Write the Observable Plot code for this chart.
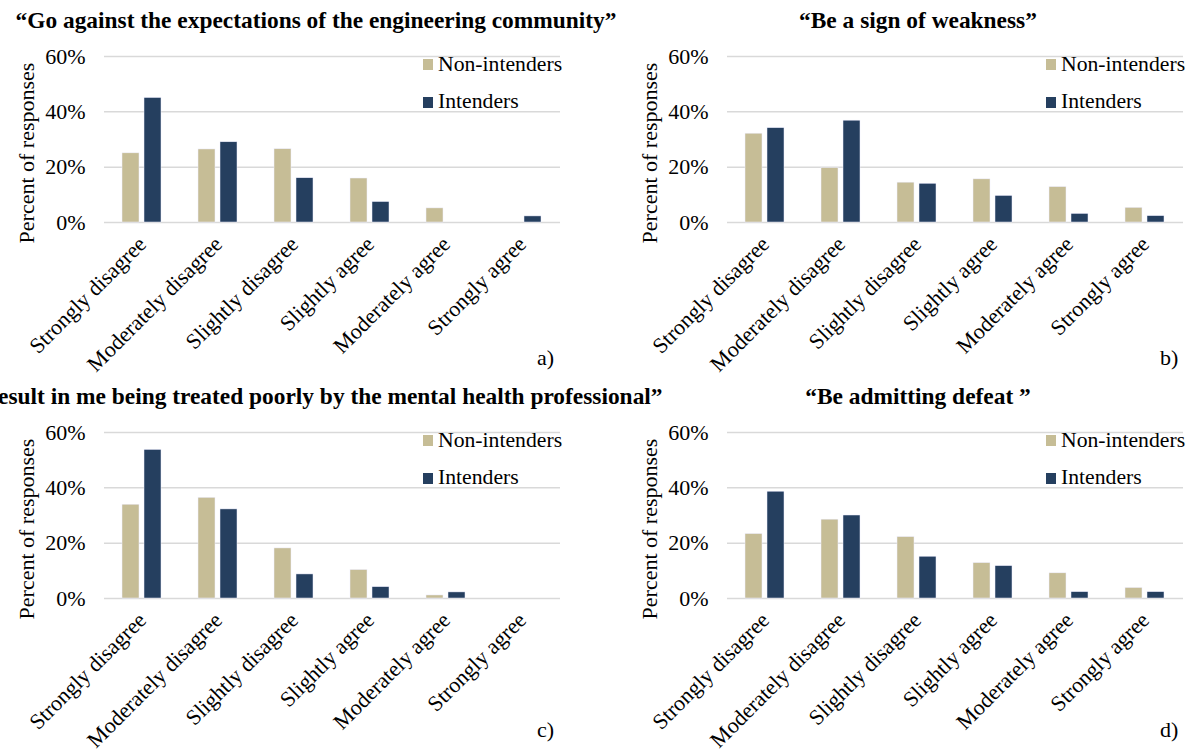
<!DOCTYPE html>
<html><head><meta charset="utf-8">
<script src="https://cdn.jsdelivr.net/npm/d3@7"></script>
<script src="https://cdn.jsdelivr.net/npm/@observablehq/plot@0.6"></script>
<style>
body{margin:0;background:#fff;}
#root{position:relative;width:1194px;height:751px;overflow:hidden;font-family:"Liberation Serif","Times New Roman",serif;color:#000;}
.abs{position:absolute;white-space:nowrap;line-height:1;}
.title{font-weight:bold;font-size:23.4px;text-align:center;width:900px;}
</style></head><body><div id="root"></div>
<script>
const categories = ["Strongly disagree","Moderately disagree","Slightly disagree","Slightly agree","Moderately agree","Strongly agree"];
const seriesNames = ["Non-intenders","Intenders"];
const seriesColors = ["#c6bd96","#253f5f"];
const yTicks = [0,20,40,60];
const titles = [
  "\u201cGo against the expectations of the engineering community\u201d",
  "\u201cBe a sign of weakness\u201d",
  "\u201cResult in me being treated poorly by the mental health professional\u201d",
  "\u201cBe admitting defeat \u201d"
];
const letters = ["a)","b)","c)","d)"];
const nonIntendersA = [25.0, 26.4, 26.5, 15.9, 5.1, 0];
const intendersA    = [45.0, 29.0, 16.0, 7.4, 0, 2.2];
const nonIntendersB = [32.1, 19.7, 14.4, 15.6, 12.8, 5.3];
const intendersB    = [34.1, 36.8, 14.0, 9.6, 3.1, 2.3];
const nonIntendersC = [33.9, 36.4, 18.1, 10.3, 1.1, 0];
const intendersC    = [53.7, 32.2, 8.7, 4.1, 2.2, 0];
const nonIntendersD = [23.3, 28.5, 22.2, 12.8, 9.1, 3.8];
const intendersD    = [38.6, 30.0, 15.1, 11.7, 2.3, 2.3];

const panels = [
  {values:[nonIntendersA,intendersA], ox:0,   oy:0,   tc:316},
  {values:[nonIntendersB,intendersB], ox:623, oy:0,   tc:918},
  {values:[nonIntendersC,intendersC], ox:0,   oy:376, tc:316},
  {values:[nonIntendersD,intendersD], ox:623, oy:376, tc:918}
];

const root = document.getElementById("root");
function addDiv(cls, text, left, top, extra) {
  const d = document.createElement("div");
  d.className = "abs " + (cls||"");
  d.textContent = text;
  d.style.left = left + "px";
  d.style.top = top + "px";
  if (extra) Object.assign(d.style, extra);
  root.appendChild(d);
  return d;
}

panels.forEach((p, k) => {
  const data = categories.flatMap((c, i) => seriesNames.map((s, j) => ({category: c, series: s, value: p.values[j][i]})));
  const chart = Plot.plot({
    width: 571, height: 375,
    marginLeft: 103, marginRight: 10, marginTop: 56, marginBottom: 153,
    style: {fontFamily: "'Liberation Serif', serif", fontSize: "22px", color: "#000", background: "transparent", overflow: "visible"},
    fx: {domain: categories, padding: 0, label: null},
    x: {domain: seriesNames, paddingInner: 0.224, paddingOuter: 0.823, axis: null},
    y: {domain: [0, 60], label: null},
    color: {domain: seriesNames, range: seriesColors},
    marks: [
      Plot.gridY({ticks: yTicks, stroke: "#d9d9d9", strokeOpacity: 1, strokeWidth: 1.5}),
      Plot.barY(data, {fx: "category", x: "series", y: "value", fill: "series", stroke: "#eef", strokeWidth: 0.5}),
      Plot.axisY({ticks: yTicks, tickSize: 0, tickPadding: 19, tickFormat: d => d + "%", label: null}),
      Plot.axisFx({anchor: "bottom", tickRotate: -45, tickSize: 0, tickPadding: 18, label: null, fontSize: "22px"})
    ]
  });
  chart.style.position = "absolute";
  chart.style.left = p.ox + "px";
  chart.style.top = p.oy + "px";
  root.appendChild(chart);

  addDiv("title", titles[k], p.tc - 450, p.oy + 9);
  addDiv("", "Percent of responses", p.ox + 27 - 150, p.oy + 153 - 11,
    {width: "300px", textAlign: "center", fontSize: "22px", transform: "rotate(-90deg)", transformOrigin: "150px 11px"});
  seriesNames.forEach((s, j) => {
    addDiv("", "", p.ox + 422.7, p.oy + 59 + j * 38.3, {width: "10.5px", height: "10.5px", background: seriesColors[j]});
    addDiv("", s, p.ox + 438, p.oy + 53.5 + j * 37.6, {fontSize: "21.7px"});
  });
  addDiv("", letters[k], p.ox + 537, p.oy + (p.oy > 0 ? 343 : 347), {fontSize: "22px"});
});
</script>
</body></html>
